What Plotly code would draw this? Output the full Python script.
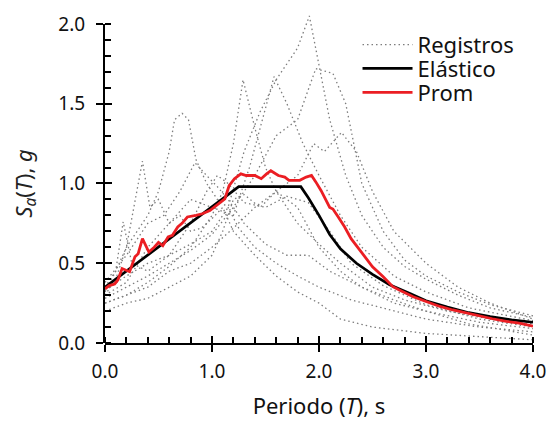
import plotly.graph_objects as go

# Elastic design spectrum
periodo_elastico = [0.0, 1.25, 1.83, 1.9, 2.0, 2.1, 2.2, 2.35, 2.5, 2.66, 2.85, 3.0, 3.2, 3.4, 3.6, 3.8, 4.0]
sa_elastico = [0.35, 0.98, 0.98, 0.91, 0.80, 0.68, 0.59, 0.50, 0.43, 0.365, 0.31, 0.265, 0.225, 0.19, 0.165, 0.145, 0.13]

# Mean spectrum of the records
periodo_prom = [0.0, 0.04, 0.09, 0.12, 0.16, 0.20, 0.23, 0.28, 0.31, 0.35, 0.41, 0.46, 0.50, 0.54,
                0.59, 0.63, 0.68, 0.72, 0.77, 0.85, 0.91, 0.98, 1.02, 1.07, 1.12, 1.16, 1.21, 1.27,
                1.32, 1.40, 1.46, 1.51, 1.55, 1.62, 1.68, 1.72, 1.82, 1.88, 1.93, 1.97, 2.02, 2.10,
                2.13, 2.18, 2.24, 2.30, 2.35, 2.43, 2.50, 2.60, 2.69, 2.75, 2.88, 3.0, 3.13, 3.25,
                3.38, 3.50, 3.62, 3.75, 3.87, 4.0]
sa_prom = [0.34, 0.36, 0.37, 0.395, 0.467, 0.457, 0.447, 0.54, 0.56, 0.654, 0.57, 0.60, 0.63, 0.61,
           0.665, 0.675, 0.727, 0.75, 0.79, 0.80, 0.81, 0.83, 0.85, 0.88, 0.903, 0.986, 1.03, 1.06,
           1.05, 1.05, 1.03, 1.06, 1.08, 1.05, 1.04, 1.02, 1.02, 1.04, 1.05, 1.01, 0.955, 0.85,
           0.84, 0.79, 0.727, 0.654, 0.61, 0.54, 0.478, 0.415, 0.353, 0.332, 0.29, 0.26, 0.229, 0.207,
           0.187, 0.166, 0.152, 0.135, 0.125, 0.105]

# Individual ground-motion records
t_reg1 = [0, 0.2, 0.4, 0.6, 0.8, 1.0, 1.15, 1.3, 1.45, 1.6, 1.72, 1.8, 1.91, 2.0, 2.1, 2.25, 2.4, 2.6, 2.8, 3.0, 3.3, 3.6, 4.0]
sa_reg1 = [0.33, 0.42, 0.5, 0.55, 0.62, 0.7, 0.85, 1.2, 1.45, 1.65, 1.77, 1.85, 2.05, 1.75, 1.4, 1.05, 0.8, 0.6, 0.48, 0.4, 0.3, 0.22, 0.16]
t_reg2 = [0, 0.2, 0.4, 0.6, 0.8, 1.0, 1.2, 1.4, 1.6, 1.8, 1.97, 2.13, 2.25, 2.4, 2.6, 2.8, 3.0, 3.3, 3.6, 4.0]
sa_reg2 = [0.28, 0.35, 0.42, 0.5, 0.58, 0.68, 0.85, 1.05, 1.3, 1.4, 1.72, 1.69, 1.5, 1.0, 0.7, 0.52, 0.42, 0.32, 0.24, 0.17]
t_reg3 = [0, 0.2, 0.4, 0.6, 0.8, 1.0, 1.1, 1.2, 1.29, 1.4, 1.5, 1.6, 1.8, 2.0, 2.2, 2.5, 2.8, 3.2, 3.6, 4.0]
sa_reg3 = [0.25, 0.3, 0.38, 0.48, 0.6, 0.8, 0.95, 1.25, 1.65, 1.35, 1.1, 0.95, 0.75, 0.62, 0.5, 0.35, 0.27, 0.2, 0.15, 0.12]
t_reg4 = [0, 0.2, 0.4, 0.6, 0.8, 1.0, 1.2, 1.35, 1.45, 1.58, 1.7, 1.85, 2.0, 2.2, 2.4, 2.7, 3.0, 3.4, 4.0]
sa_reg4 = [0.3, 0.38, 0.6, 0.75, 0.9, 0.85, 0.8, 1.1, 1.35, 1.67, 1.5, 1.25, 1.05, 0.8, 0.6, 0.42, 0.32, 0.22, 0.14]
t_reg5 = [0, 0.1, 0.2, 0.3, 0.4, 0.5, 0.6, 0.65, 0.72, 0.78, 0.85, 0.95, 1.05, 1.15, 1.25, 1.4, 1.6, 1.8, 2.0, 2.3, 2.6, 3.0, 3.5, 4.0]
sa_reg5 = [0.35, 0.45, 0.6, 0.7, 0.8, 0.95, 1.2, 1.4, 1.44, 1.4, 1.15, 1.0, 0.9, 0.85, 0.72, 0.6, 0.5, 0.42, 0.35, 0.27, 0.22, 0.15, 0.1, 0.07]
t_reg6 = [0, 0.1, 0.2, 0.28, 0.35, 0.42, 0.5, 0.6, 0.7, 0.8, 0.9, 1.0, 1.1, 1.2, 1.4, 1.6, 1.8, 2.0, 2.2, 2.5, 3.0, 3.5, 4.0]
sa_reg6 = [0.3, 0.4, 0.6, 0.9, 1.14, 0.85, 0.9, 0.75, 0.8, 0.7, 0.72, 0.78, 0.85, 0.7, 0.55, 0.42, 0.32, 0.25, 0.15, 0.1, 0.06, 0.04, 0.02]
t_reg7 = [0, 0.2, 0.4, 0.55, 0.7, 0.84, 0.95, 1.05, 1.15, 1.3, 1.5, 1.7, 1.9, 2.1, 2.4, 2.7, 3.0, 3.5, 4.0]
sa_reg7 = [0.38, 0.55, 0.75, 0.8, 0.95, 1.13, 1.05, 0.98, 0.9, 0.75, 0.62, 0.55, 0.55, 0.45, 0.35, 0.27, 0.2, 0.13, 0.09]
t_reg8 = [0, 0.2, 0.4, 0.6, 0.8, 1.0, 1.2, 1.4, 1.6, 1.8, 1.95, 2.05, 2.21, 2.35, 2.5, 2.7, 3.0, 3.3, 3.6, 4.0]
sa_reg8 = [0.25, 0.3, 0.35, 0.45, 0.5, 0.6, 0.72, 0.85, 0.95, 1.05, 1.25, 1.2, 1.32, 1.2, 0.95, 0.7, 0.5, 0.35, 0.25, 0.15]
t_reg9 = [0, 0.2, 0.4, 0.6, 0.8, 1.0, 1.1, 1.2, 1.3, 1.45, 1.6, 1.8, 2.0, 2.2, 2.4, 2.7, 3.0, 3.4, 4.0]
sa_reg9 = [0.2, 0.25, 0.28, 0.35, 0.42, 0.55, 0.7, 0.9, 0.93, 0.85, 0.95, 0.85, 0.6, 0.45, 0.35, 0.25, 0.2, 0.12, 0.05]
t_reg10 = [0, 0.1, 0.17, 0.25, 0.4, 0.6, 0.8, 0.95, 1.05, 1.15, 1.3, 1.5, 1.7, 1.9, 2.1, 2.3, 2.6, 3.0, 3.5, 4.0]
sa_reg10 = [0.32, 0.45, 0.76, 0.5, 0.45, 0.55, 0.75, 0.95, 1.05, 1.0, 0.88, 0.85, 0.92, 0.88, 0.7, 0.5, 0.36, 0.24, 0.15, 0.1]

registros = [(t_reg1, sa_reg1), (t_reg2, sa_reg2), (t_reg3, sa_reg3), (t_reg4, sa_reg4),
             (t_reg5, sa_reg5), (t_reg6, sa_reg6), (t_reg7, sa_reg7), (t_reg8, sa_reg8),
             (t_reg9, sa_reg9), (t_reg10, sa_reg10)]

FONT = "Noto Sans"
Y_TOP = 2.1  # data axis extends a little above the labelled axis so peaks are not clipped

fig = go.Figure()

for i, (t, sa) in enumerate(registros):
    fig.add_trace(go.Scatter(
        x=t, y=sa, mode="lines", name="Registros", legendgroup="reg",
        showlegend=(i == 0), legend="legend",
        line=dict(color="rgb(125,125,125)", width=1.3, dash="1.5px,3px"),
        xaxis="x", yaxis="y"))

fig.add_trace(go.Scatter(x=periodo_elastico, y=sa_elastico, mode="lines", name="Elástico",
                         legend="legend2",
                         line=dict(color="black", width=2.7), xaxis="x", yaxis="y"))
fig.add_trace(go.Scatter(x=periodo_prom, y=sa_prom, mode="lines", name="Prom",
                         legend="legend3",
                         line=dict(color="rgb(235,30,35)", width=2.8), xaxis="x", yaxis="y"))

# empty traces so the decorative axes get drawn
for xa, ya in (("x", "y2"), ("x2", "y3")):
    fig.add_trace(go.Scatter(x=[], y=[], xaxis=xa, yaxis=ya, showlegend=False, hoverinfo="skip"))

tick_common = dict(showgrid=False, zeroline=False, tickcolor="black", tickwidth=2)

LEG_X = 0.59
leg_common = dict(x=LEG_X, xanchor="left", yanchor="middle", font=dict(size=22, color="#111"),
                  bgcolor="rgba(0,0,0,0)", itemwidth=50)

fig.update_layout(
    width=548, height=423,
    margin=dict(l=105, r=15, t=8, b=78),
    paper_bgcolor="white", plot_bgcolor="rgba(0,0,0,0)",
    font=dict(family=FONT, size=19, color="#111"),
    showlegend=True,
    legend=dict(y=1 - (45 - 8) / 337, **leg_common),
    legend2=dict(y=1 - (69 - 8) / 337, **leg_common),
    legend3=dict(y=1 - (93 - 8) / 337, **leg_common),
    xaxis=dict(domain=[0, 1], range=[0, 4], anchor="y", showline=True, linecolor="black", linewidth=2,
               ticks="outside", ticklen=7, dtick=1, tick0=0, tickformat=".1f", ticklabelstandoff=3,
               minor=dict(dtick=0.2, ticks="inside", ticklen=6, tickwidth=2, tickcolor="black"),
               title=dict(text="Periodo (<i>T</i>), s", font=dict(size=22, color="#111"), standoff=16),
               automargin="bottom", **tick_common),
    xaxis2=dict(overlaying="x", range=[0, 4], anchor="y", ticks="inside", ticklen=7, dtick=1, tick0=0,
                showticklabels=False, showline=False, **tick_common),
    yaxis=dict(domain=[0, 1], range=[0, Y_TOP], visible=False, fixedrange=True),
    yaxis2=dict(domain=[0, 2.0 / Y_TOP], range=[0, 2], anchor="x", showline=True, linecolor="black",
                linewidth=2, ticks="outside", ticklen=7, dtick=0.5, tick0=0, tickformat=".1f",
                ticklabelstandoff=7,
                minor=dict(dtick=0.1, ticks="inside", ticklen=6, tickwidth=2, tickcolor="black"),
                title=dict(text="<i>S<sub>a</sub></i>(<i>T</i>), <i>g</i>",
                           font=dict(size=22, color="#222"), standoff=20),
                automargin="left", **tick_common),
    yaxis3=dict(overlaying="y2", range=[0, 2], anchor="x", ticks="inside", ticklen=7, dtick=0.5, tick0=0,
                showticklabels=False, showline=False, **tick_common),
)

fig.write_html("out.html")
